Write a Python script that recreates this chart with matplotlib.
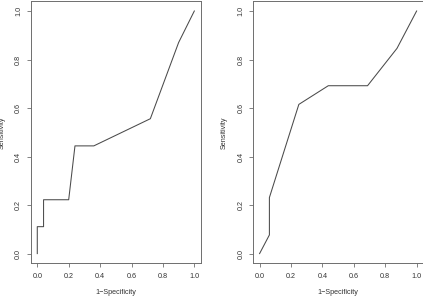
import matplotlib
matplotlib.use("Agg")
import matplotlib.pyplot as plt

# ROC curves (1-specificity, sensitivity)
fpr_left = [0.0, 0.0, 0.04, 0.04, 0.20, 0.24, 0.36, 0.72, 0.90, 1.0]
tpr_left = [0.0, 0.111, 0.111, 0.222, 0.222, 0.444, 0.444, 0.556, 0.87, 1.0]

fpr_right = [0.0, 0.0625, 0.0625, 0.25, 0.4375, 0.6875, 0.875, 1.0]
tpr_right = [0.0, 0.077, 0.231, 0.615, 0.692, 0.692, 0.846, 1.0]

ticks = [0.0, 0.2, 0.4, 0.6, 0.8, 1.0]
tick_labels = ["0.0", "0.2", "0.4", "0.6", "0.8", "1.0"]

plt.rcParams["font.family"] = ["Liberation Sans", "DejaVu Sans"]
FS = 5.2
W, H = 423, 297

fig = plt.figure(figsize=(W / 100, H / 100), dpi=100)
fig.patch.set_facecolor("white")


def roc_panel(x0, fpr, tpr):
    # axes box in pixel coords -> figure fraction
    left, right, top, bottom = x0, x0 + 169.6, 1.3, 263.3
    ax = fig.add_axes([left / W, (H - bottom) / H, (right - left) / W, (bottom - top) / H])
    ax.plot(fpr, tpr, color="#4a4a4a", lw=0.75)
    ax.set_xlim(-0.04, 1.04)
    ax.set_ylim(-0.04, 1.04)
    ax.set_xticks(ticks)
    ax.set_xticklabels(tick_labels)
    ax.set_yticks(ticks)
    ax.set_yticklabels(tick_labels, rotation=90, va="center")
    for s in ax.spines.values():
        s.set_color("#6e6e6e")
        s.set_linewidth(0.7)
    ax.tick_params(direction="out", length=2.8, width=0.6, color="#6e6e6e",
                   labelsize=FS, labelcolor="#333333")
    ax.tick_params(axis="x", pad=4.0)
    ax.tick_params(axis="y", pad=3.6)
    ax.set_xlabel("1\u2212Specificity", fontsize=FS, color="#333333")
    ax.set_ylabel("Sensitivity", fontsize=FS, color="#333333")
    ax.xaxis.set_label_coords(0.5, -0.113)
    ax.yaxis.set_label_coords(-0.172, 0.5)
    ax.xaxis.label.set_va("center")
    ax.yaxis.label.set_va("center")
    return ax


roc_panel(31.0, fpr_left, tpr_left)
roc_panel(253.3, fpr_right, tpr_right)

fig.savefig("out.png", dpi=100, facecolor="white")
